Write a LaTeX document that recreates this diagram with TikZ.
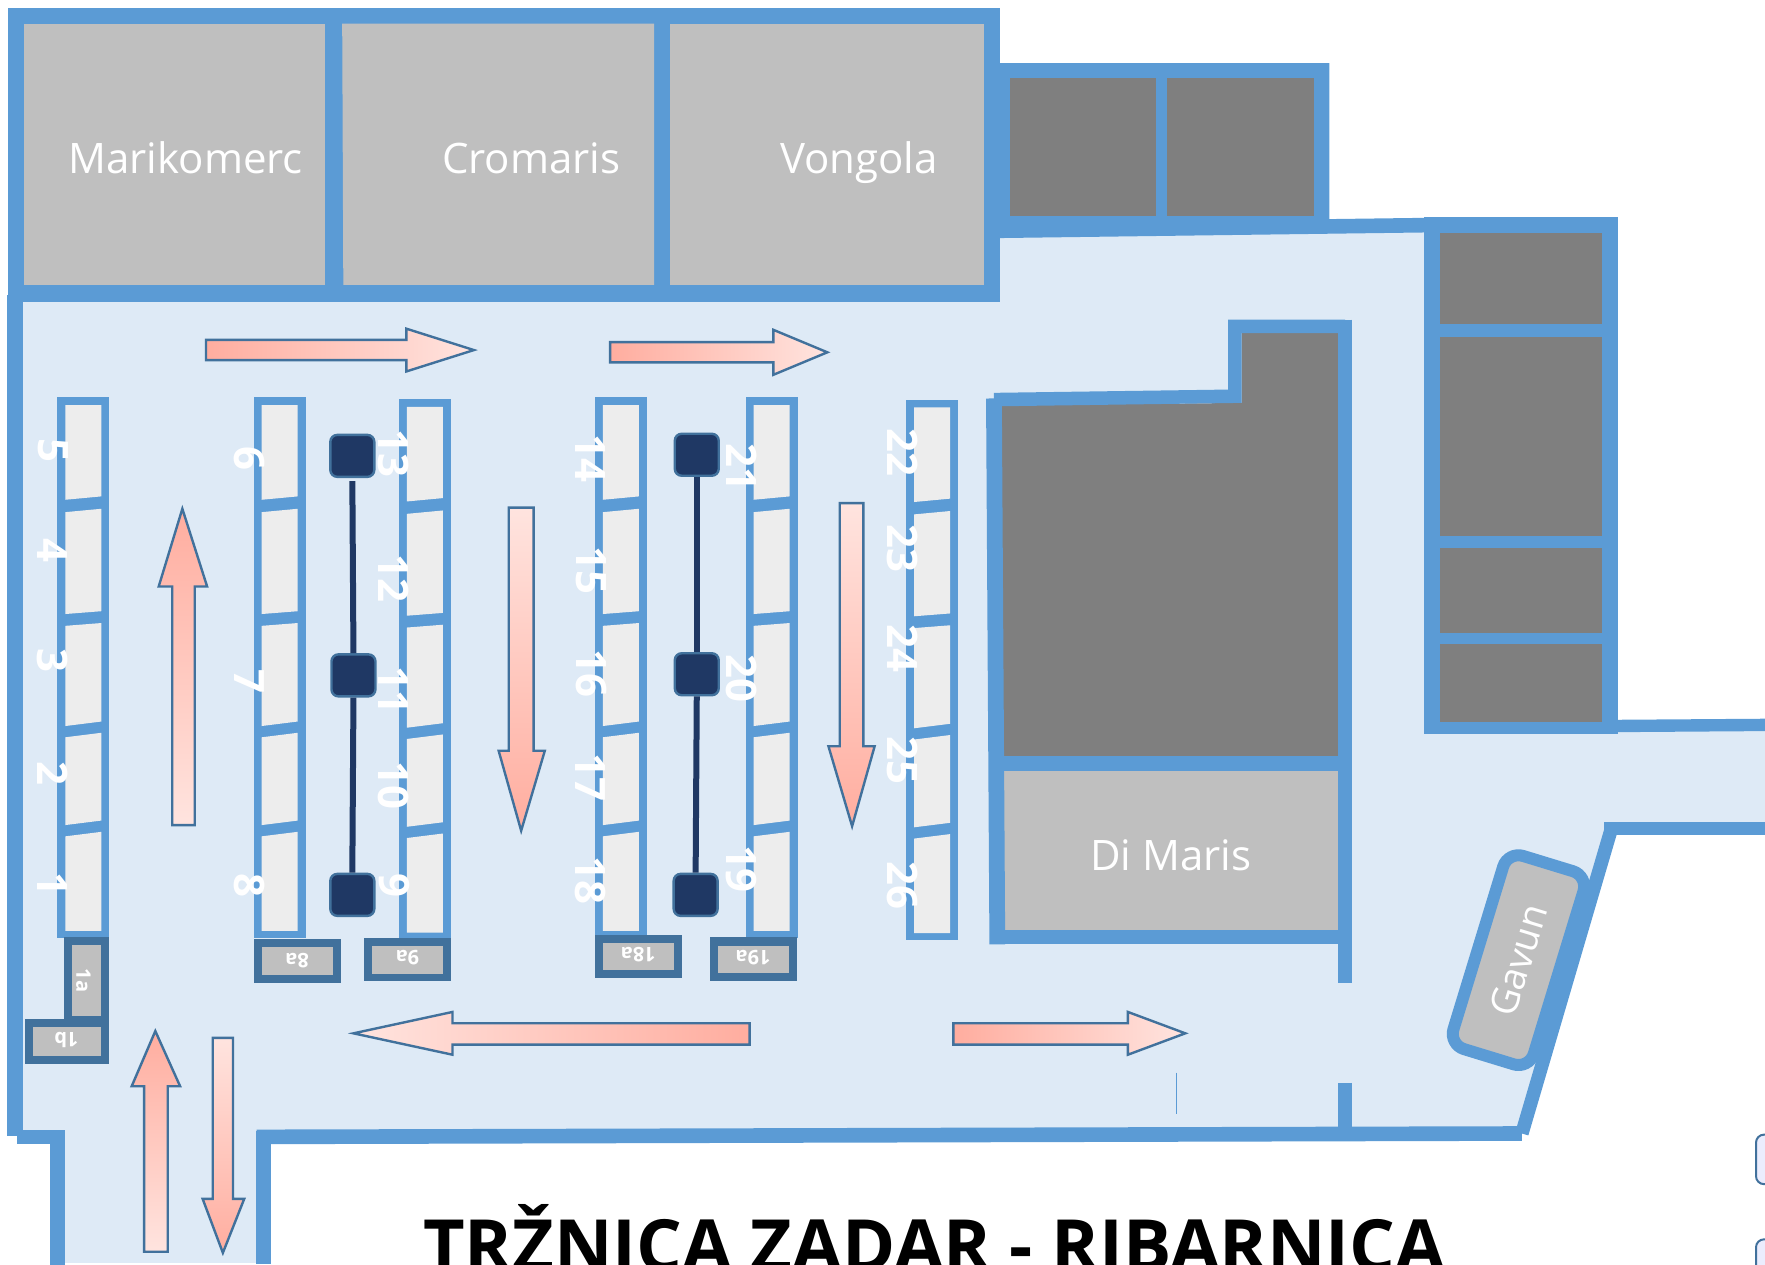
\documentclass[tikz,border=0pt]{standalone}
\usepackage{fontspec}
\setmainfont{Open Sans}
\definecolor{wallc}{HTML}{5B9BD5}
\definecolor{floorc}{HTML}{DEEAF6}
\definecolor{greyc}{HTML}{BFBFBF}
\definecolor{darkc}{HTML}{7F7F7F}
\definecolor{stallc}{HTML}{EDEDED}
\definecolor{edgec}{HTML}{41719C}
\definecolor{navyc}{HTML}{1F3864}
\definecolor{arrowa}{HTML}{FFAD9F}
\definecolor{arrowb}{HTML}{FFE4DF}
\tikzset{
  wall/.style={draw=wallc,line width=#1*0.5628pt},
  wall/.default=13,
  room/.style={fill=greyc},
  darkroom/.style={fill=darkc},
  roomlabel/.style={text=white,font=\fontsize{21}{25}\selectfont,inner sep=0pt,anchor=base},
  numlabel/.style={text=white,font=\fontsize{21}{25}\selectfont\bfseries,inner sep=0pt,rotate=-90},
  binlabel/.style={text=white,font=\fontsize{10}{12}\selectfont\bfseries,inner sep=0pt},
  binouter/.style={fill=edgec},
  post/.style={draw=edgec,fill=navyc,line width=1.2pt,rounded corners=3.5pt,minimum width=22pt,minimum height=21pt,inner sep=0pt},
  postline/.style={draw=navyc,line width=3pt},
  flow/.style={draw=edgec,line width=1.2pt,miter limit=10},
}
\newcommand{\stallcol}[2]{%
  \fill[wallc] (#1,#2+353) rectangle (#1+46,#2+833);
  \fill[stallc] (#1+7,#2+360) -- (#1+39,#2+360) -- (#1+39,#2+441) -- (#1+7,#2+444) -- cycle;
  \fill[stallc] (#1+7,#2+455) -- (#1+39,#2+452) -- (#1+39,#2+543) -- (#1+7,#2+545.5) -- cycle;
  \fill[stallc] (#1+7,#2+556) -- (#1+39,#2+553.5) -- (#1+39,#2+641) -- (#1+7,#2+645) -- cycle;
  \fill[stallc] (#1+7,#2+655) -- (#1+39,#2+651) -- (#1+39,#2+729) -- (#1+7,#2+733) -- cycle;
  \fill[stallc] (#1+7,#2+743) -- (#1+39,#2+739) -- (#1+39,#2+827) -- (#1+7,#2+827) -- cycle;
}
\begin{document}
\begin{tikzpicture}[x=0.56282pt,y=-0.56282pt]
\useasboundingbox (0,0) rectangle (1568,1123.8);
\clip (0,0) rectangle (1568,1123.8);
% floor
\fill[floorc] (13,262) -- (888,262) -- (888,206) -- (1268,203) -- (1268,648) -- (1568,645) -- (1568,736) -- (1430,736) -- (1352,1007) -- (234,1010) -- (234,1122) -- (51,1122) -- (51,1010) -- (13,1008) -- cycle;
% top block
\fill[wallc] (7,7) rectangle (888,268);
\fill[room] (21,21) rectangle (289,253);
\fill[room] (304,21) -- (581,21) -- (581,253) -- (305,253) -- cycle;
\fill[room] (595,21) rectangle (874,253);
\node[roomlabel] (marikomerc) at (165,154) {Marikomerc};
\node[roomlabel] (cromaris) at (472,154) {Cromaris};
\node[roomlabel] (vongola) at (763,154) {Vongola};
% top right rooms
\fill[wallc] (888,56) -- (1181,56) -- (1181,198) -- (888,205) -- cycle;
\fill[darkroom] (897,69) rectangle (1027,192);
\fill[darkroom] (1037,69) rectangle (1167,192);
\draw[wall=13] (888,205) -- (1268,200);
% right block
\fill[wallc] (1265,193) rectangle (1437,652);
\fill[darkroom] (1279,207) rectangle (1423,288);
\fill[darkroom] (1279,299) rectangle (1423,476);
\fill[darkroom] (1279,487) rectangle (1423,562);
\fill[darkroom] (1279,572) rectangle (1423,641);
% outer walls
\draw[wall=14] (13.5,262) -- (13.5,1009);
\draw[wall=12] (15,1010) -- (58,1010);
\draw[wall=14] (51,1005) -- (51,1124);
\draw[wall=14] (234,1005) -- (234,1123);
\draw[wall=13] (228,1010) -- (1352,1007);
\draw[wall=11] (1430,645) -- (1568,644);
\draw[wall=11] (1425,736) -- (1568,736);
\draw[wall=12] (1431,738) -- (1352,1007);
% Gavun
\node[draw=wallc,fill=greyc,line width=6pt,rounded corners=8pt,rotate=73,minimum width=101pt,minimum height=42pt,inner sep=0pt,text=white,font=\fontsize{19}{23}\selectfont] (gavun) at (1349,853) {Gavun};
% central block
\fill[darkroom] (889,360) -- (1103,358) -- (1103,296) -- (1190,296) -- (1190,672) -- (889,672) -- cycle;
\fill[room] (889,680) rectangle (1191,830);
\draw[wall=12] (883,355) -- (1097,352) -- (1097,290) -- (1195,290);
\draw[wall=12] (1195,284) -- (1195,873);
\draw[wall=12] (1195,962) -- (1195,1005);
\draw[wall=14] (883,354) -- (886,839);
\draw[wall=13] (886,678.5) -- (1195,678.5);
\draw[wall=13] (880,832.5) -- (1195,832.5);
\node[roomlabel] (dimaris) at (1040,773) {Di Maris};
\draw[wallc,line width=0.6pt] (1045,953) -- (1045,990);
% stalls
\stallcol{51}{0}
\stallcol{225.5}{0}
\stallcol{354.5}{1.5}
\stallcol{528.6}{0}
\stallcol{662.5}{0}
\stallcol{805}{2}
% numbers
\foreach \n/\x/\y in {5/47/400,4/47/489,3/47/587,2/47/687,1/47/786,6/222/407,7/222/605,8/222/787,13/350/403,12/350/514,11/350/613,10/350/698,9/350/787,14/525/407,15/525/507,16/525/598,17/525/691,18/525/782,21/659/415,20/659/603,19/659/772,22/802/402,23/802/487,24/802/576,25/802/676,26/802/787}
  \node[numlabel] (n\n) at (\x,\y) {\n};
% bins
\fill[binouter] (56.6,832) rectangle (96.8,905);
\fill[room] (63.7,839.6) rectangle (89.7,902.4);
\fill[binouter] (22.5,905) rectangle (96.8,945);
\fill[room] (29.5,912.4) rectangle (89.7,938);
\node[binlabel,rotate=-90] (b1a) at (74,871) {1a};
\node[binlabel,rotate=180] (b1b) at (59,924) {1b};
\fill[binouter] (225.7,834.5) rectangle (302.8,873);
\fill[room] (232.8,841.6) rectangle (295.8,866);
\node[binlabel,rotate=180] (b8a) at (264,853) {8a};
\fill[binouter] (323.4,833.5) rectangle (400.5,871.8);
\fill[room] (330.5,840.5) rectangle (393.5,865);
\node[binlabel,rotate=180] (b9a) at (362,851) {9a};
\fill[binouter] (528.6,830.6) rectangle (605.6,869);
\fill[room] (535.7,837.8) rectangle (598.6,862);
\node[binlabel,rotate=180] (b18a) at (567,848) {18a};
\fill[binouter] (630.8,832.7) rectangle (707.8,871.5);
\fill[room] (637.8,840) rectangle (700.8,864);
\node[binlabel,rotate=180] (b19a) at (669,851) {19a};
% posts
\node[post] (p1) at (313,405) {};
\node[post] (p2) at (314,600) {};
\node[post] (p3) at (313,795) {};
\node[post] (q1) at (619,404) {};
\node[post] (q2) at (619,599) {};
\node[post] (q3) at (618,795) {};
\draw[postline,shorten <=1.5pt] (p1.south) -- (p2.north);
\draw[postline] (p2.south) -- (p3.north);
\draw[postline] (q1.south) -- (q2.north);
\draw[postline] (q2.south) -- (q3.north);
% arrows
\draw[flow,left color=arrowa,right color=arrowb] (183,302) -- (361,302) -- (361,292) -- (421,311) -- (361,330) -- (361,320) -- (183,320) -- cycle;
\draw[flow,left color=arrowa,right color=arrowb] (542,304) -- (687,304) -- (687,293) -- (735,313) -- (687,333) -- (687,322) -- (542,322) -- cycle;
\draw[flow,top color=arrowa,bottom color=arrowb] (153,733) -- (153,521) -- (141,521) -- (162,452) -- (184,521) -- (173,521) -- (173,733) -- cycle;
\draw[flow,top color=arrowb,bottom color=arrowa] (452,451) -- (474,451) -- (474,667) -- (484,667) -- (463,738) -- (443,667) -- (452,667) -- cycle;
\draw[flow,top color=arrowb,bottom color=arrowa] (746,447) -- (767,447) -- (767,663) -- (777,663) -- (757,734) -- (736,663) -- (746,663) -- cycle;
\draw[flow,left color=arrowb,right color=arrowa] (666,909) -- (402,909) -- (402,899) -- (314,918) -- (402,937) -- (402,928) -- (666,928) -- cycle;
\draw[flow,left color=arrowa,right color=arrowb] (847,909) -- (1002,909) -- (1002,899) -- (1053,918) -- (1002,937) -- (1002,928) -- (847,928) -- cycle;
\draw[flow,top color=arrowa,bottom color=arrowb] (128,1112) -- (128,965) -- (117,965) -- (138,916) -- (160,965) -- (149,965) -- (149,1112) -- cycle;
\draw[flow,top color=arrowb,bottom color=arrowa] (189,922) -- (207,922) -- (207,1065) -- (217,1065) -- (198,1113) -- (180,1065) -- (189,1065) -- cycle;
% cut-off boxes at right
\draw[draw=edgec,fill=floorc!70!blue!20!white,line width=1pt,rounded corners=4pt] (1590,1008) -- (1560,1008) -- (1560,1052) -- (1590,1052);
\draw[draw=edgec,fill=floorc!70!blue!20!white,line width=1pt,rounded corners=4pt] (1590,1101) -- (1560,1101) -- (1560,1145) -- (1590,1145);
% title
\node[anchor=base,font=\fontsize{36}{40}\selectfont\bfseries,inner sep=0pt] (title) at (830,1130) {TRŽNICA ZADAR - RIBARNICA};
\end{tikzpicture}
\end{document}
